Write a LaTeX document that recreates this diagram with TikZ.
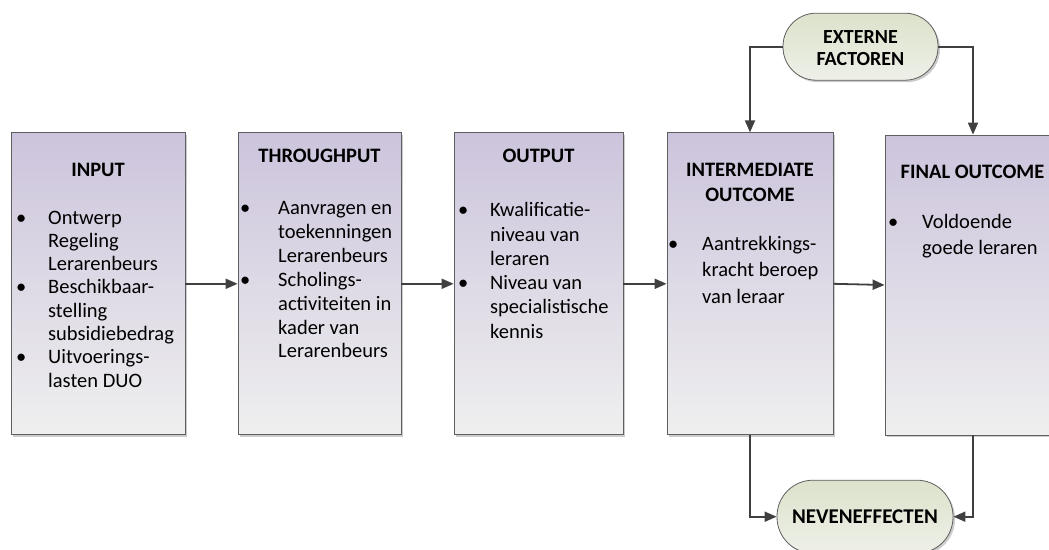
\documentclass[tikz,border=0pt]{standalone}
\usepackage{fontspec}
\setmainfont{Carlito}
\usetikzlibrary{arrows.meta,shadows}
\definecolor{boxtop}{HTML}{CCC4DC}
\definecolor{boxbot}{HTML}{EFEFEF}
\definecolor{pilltop}{HTML}{DCE2CB}
\definecolor{pillbot}{HTML}{EEF0E8}
\definecolor{edgegray}{HTML}{5F5F5F}
\definecolor{arrgray}{HTML}{404040}
\newcommand\bul[1]{\llap{\makebox[0pt][c]{\textbullet}\hspace{#1}}}
\begin{document}
\begin{tikzpicture}[x=1pt,y=-1pt,
  stage/.style={draw=edgegray, line width=0.8pt, top color=boxtop, bottom color=boxbot, inner sep=0pt,
    drop shadow={shadow xshift=2pt,shadow yshift=-2pt,fill=black!20,opacity=1}},
  pill/.style={draw=edgegray, line width=0.8pt, top color=pilltop, bottom color=pillbot, inner sep=0pt,
    drop shadow={shadow xshift=2pt,shadow yshift=-2pt,fill=black!20,opacity=1}},
  title/.style={anchor=base, inner sep=0pt, font=\fontsize{20.5}{25}\selectfont\bfseries},
  body/.style={anchor=base west, inner sep=0pt},
  flow/.style={draw=arrgray, line width=1.8pt, -{Triangle[length=12pt,width=10pt]}}
]
\useasboundingbox (0,0) rectangle (1049,549);
\clip (0,0) rectangle (1049,549);

% stage boxes
\node[stage, minimum width=174pt, minimum height=302pt] (in) at (98,283.8) {};
\node[stage, minimum width=163pt, minimum height=302pt] (through) at (319.5,283.8) {};
\node[stage, minimum width=169pt, minimum height=302pt] (out) at (538.5,283.8) {};
\node[stage, minimum width=166pt, minimum height=302pt] (inter) at (750,283.8) {};
\node[stage, minimum width=176pt, minimum height=300pt] (final) at (973,285) {};

% pills
\node[pill, rounded corners=33pt, minimum width=155pt, minimum height=67pt] (ext) at (860.5,46.7) {};
\node[pill, rounded corners=36pt, minimum width=176pt, minimum height=73pt] (nev) at (865,516.7) {};

% connectors
\draw[flow] (in.east) -- (through.west);
\draw[flow] (through.east) -- (out.west);
\draw[flow] (out.east) -- (inter.west);
\draw[flow] (inter.east) -- (final.west);
\draw[flow] (ext.west) -| (inter.north);
\draw[flow] (ext.east) -| (final.north);
\draw[flow] (inter.south) |- (nev.west);
\draw[flow] (final.south) |- (nev.east);

% pill texts
\node[anchor=base, inner sep=0pt, font=\fontsize{20}{22}\selectfont\bfseries] (ext-t) at (860.5,43)
  {\begin{tabular}[t]{@{}c@{}}EXTERNE\\FACTOREN\end{tabular}};
\node[anchor=base, inner sep=0pt, font=\fontsize{21}{25}\selectfont\bfseries] (nev-t) at (865,523.3) {NEVENEFFECTEN};

% titles
\node[title] (in-t) at (98,176) {INPUT};
\node[title] (through-t) at (319.5,162) {THROUGHPUT};
\node[title] (out-t) at (538.5,162.7) {OUTPUT};
\node[title] (inter-t) at (750,176.7) {\begin{tabular}[t]{@{}c@{}}INTERMEDIATE\\OUTCOME\end{tabular}};
\node[title] (final-t) at (972.5,178.3) {FINAL OUTCOME};

% bodies
\node[body, font=\fontsize{20.5}{23.3}\selectfont] (in-b) at (48,224)
  {\begin{tabular}[t]{@{}l@{}}\bul{27pt}Ontwerp\\Regeling\\Lerarenbeurs\\\bul{27pt}Beschikbaar-\\stelling\\subsidiebedrag\\\bul{27pt}Uitvoerings-\\lasten DUO\end{tabular}};
\node[body, font=\fontsize{20.5}{23.9}\selectfont] (through-b) at (278,214.5)
  {\begin{tabular}[t]{@{}l@{}}\bul{33pt}Aanvragen en\\toekenningen\\Lerarenbeurs\\\bul{33pt}Scholings-\\activiteiten in\\kader van\\Lerarenbeurs\end{tabular}};
\node[body, font=\fontsize{20.5}{24.3}\selectfont] (out-b) at (490,216.7)
  {\begin{tabular}[t]{@{}l@{}}\bul{27pt}Kwalificatie-\\niveau van\\leraren\\\bul{27pt}Niveau van\\specialistische\\kennis\end{tabular}};
\node[body, font=\fontsize{20.5}{26.7}\selectfont] (inter-b) at (702,250)
  {\begin{tabular}[t]{@{}l@{}}\bul{29pt}Aantrekkings-\\kracht beroep\\van leraar\end{tabular}};
\node[body, font=\fontsize{20.5}{26.7}\selectfont] (final-b) at (922,228)
  {\begin{tabular}[t]{@{}l@{}}\bul{29pt}Voldoende\\goede leraren\end{tabular}};
\end{tikzpicture}
\end{document}
